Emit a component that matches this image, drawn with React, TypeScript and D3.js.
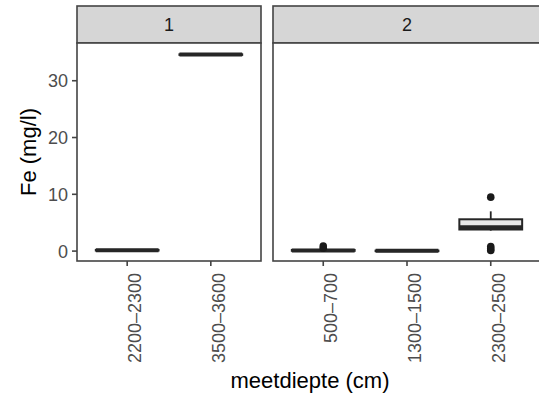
import { useEffect, useRef } from "react";
import * as d3 from "d3";

// facet panels and their depth categories
const panels = ["1", "2"];
const panelCats = [
  ["2200\u20132300", "3500\u20133600"],
  ["500\u2013700", "1300\u20131500", "2300\u20132500"],
];

// box statistics per category (Fe mg/l)
const whiskerLow = [[0.05, 34.5], [0.0, 0.0, 3.6]];
const q1 = [[0.1, 34.55], [0.05, 0.02, 3.8]];
const median = [[0.15, 34.6], [0.1, 0.05, 4.2]];
const q3 = [[0.2, 34.65], [0.2, 0.08, 5.6]];
const whiskerHigh = [[0.25, 34.7], [0.3, 0.1, 7.0]];
const outliers = [[[], []], [[0.5, 0.9], [], [9.5, 0.1, 0.4, 0.8]]];

const yTicks = [0, 10, 20, 30];
const dataMax = 34.9;
const dataMin = 0;

export default function App() {
  const ref = useRef<SVGSVGElement>(null);

  useEffect(() => {
    const svg = d3.select(ref.current);
    svg.selectAll("*").remove();

    const top = 43;
    const bottom = 261;
    const stripTop = 6;
    const panelX = [[77, 261], [273, 541]];
    const font = "Liberation Sans, Arial, sans-serif";
    const ink = "#262626";

    const pad = (dataMax - dataMin) * 0.05;
    const y = d3.scaleLinear().domain([dataMin - pad, dataMax + pad]).range([bottom, top]);

    panels.forEach((p, pi) => {
      const [x0, x1] = panelX[pi];
      const x = d3.scalePoint().domain(panelCats[pi]).range([x0, x1]).padding(0.6);
      const bw = x.step() * 0.75;
      const g = svg.append("g");

      // strip
      g.append("rect")
        .attr("x", x0).attr("y", stripTop)
        .attr("width", x1 - x0).attr("height", top - stripTop)
        .attr("fill", "#d6d6d6").attr("stroke", "#444").attr("stroke-width", 1.6);
      g.append("text")
        .attr("x", (x0 + x1) / 2).attr("y", (stripTop + top) / 2)
        .attr("dy", "0.36em").attr("text-anchor", "middle")
        .attr("font-family", font).attr("font-size", 18).attr("fill", "#1a1a1a")
        .text(p);

      // panel background + border
      g.append("rect")
        .attr("x", x0).attr("y", top)
        .attr("width", x1 - x0).attr("height", bottom - top)
        .attr("fill", "white").attr("stroke", "#444").attr("stroke-width", 1.6);

      panelCats[pi].forEach((c, ci) => {
        const cx = x(c)!;
        // whiskers
        g.append("line")
          .attr("x1", cx).attr("x2", cx)
          .attr("y1", y(q3[pi][ci])).attr("y2", y(whiskerHigh[pi][ci]))
          .attr("stroke", ink).attr("stroke-width", 1.8);
        g.append("line")
          .attr("x1", cx).attr("x2", cx)
          .attr("y1", y(q1[pi][ci])).attr("y2", y(whiskerLow[pi][ci]))
          .attr("stroke", ink).attr("stroke-width", 1.8);
        // box
        g.append("rect")
          .attr("x", cx - bw / 2).attr("width", bw)
          .attr("y", y(q3[pi][ci]))
          .attr("height", Math.max(0.5, y(q1[pi][ci]) - y(q3[pi][ci])))
          .attr("fill", "#e8e8e8").attr("stroke", ink).attr("stroke-width", 2);
        // median
        g.append("line")
          .attr("x1", cx - bw / 2).attr("x2", cx + bw / 2)
          .attr("y1", y(median[pi][ci])).attr("y2", y(median[pi][ci]))
          .attr("stroke", ink).attr("stroke-width", 4);
        // outliers
        g.selectAll(null).data(outliers[pi][ci]).enter().append("circle")
          .attr("cx", cx).attr("cy", (d) => y(d)).attr("r", 3.8)
          .attr("fill", "#1a1a1a");

        // x tick + label
        g.append("line")
          .attr("x1", cx).attr("x2", cx).attr("y1", bottom).attr("y2", bottom + 5)
          .attr("stroke", "#444").attr("stroke-width", 1.6);
        g.append("text")
          .attr("transform", `translate(${cx + 14},${bottom + 12}) rotate(-90)`)
          .attr("text-anchor", "end")
          .attr("font-family", font).attr("font-size", 18).attr("fill", "#4d4d4d")
          .text(c);
      });
    });

    // y axis ticks on the left panel
    const yg = svg.append("g");
    yTicks.forEach((t) => {
      yg.append("line")
        .attr("x1", 72).attr("x2", 77).attr("y1", y(t)).attr("y2", y(t))
        .attr("stroke", "#444").attr("stroke-width", 1.6);
      yg.append("text")
        .attr("x", 68).attr("y", y(t)).attr("dy", "0.36em")
        .attr("text-anchor", "end")
        .attr("font-family", font).attr("font-size", 18).attr("fill", "#4d4d4d")
        .text(t);
    });

    // axis titles
    svg.append("text")
      .attr("transform", `translate(36,152) rotate(-90)`)
      .attr("text-anchor", "middle")
      .attr("font-family", font).attr("font-size", 22).attr("fill", "black")
      .text("Fe (mg/l)");
    svg.append("text")
      .attr("x", 310).attr("y", 388)
      .attr("text-anchor", "middle")
      .attr("font-family", font).attr("font-size", 22).attr("fill", "black")
      .text("meetdiepte (cm)");
  }, []);

  return (
    <svg
      ref={ref}
      width={539}
      height={396}
      style={{ position: "absolute", left: 0, top: 0, background: "white" }}
    />
  );
}
